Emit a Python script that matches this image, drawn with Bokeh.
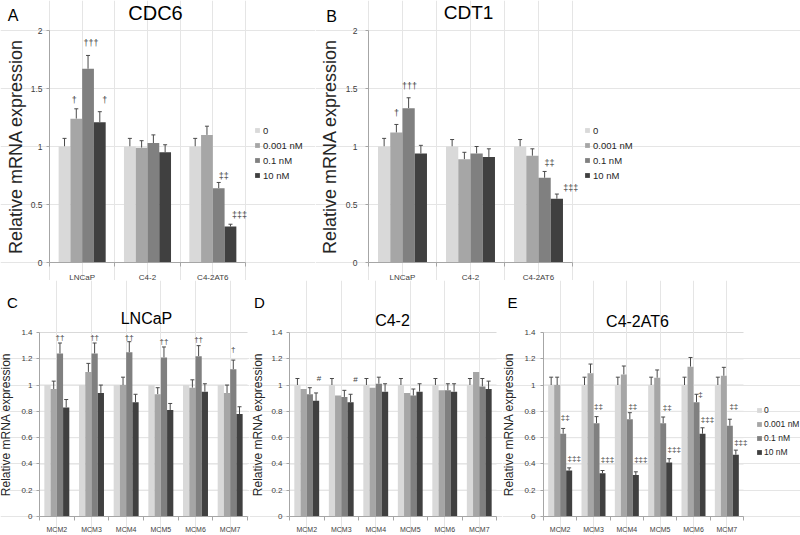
from bokeh.plotting import figure
from bokeh.layouts import row, column
from bokeh.models import (ColumnDataSource, Range1d, FixedTicker, CustomJSTickFormatter,
                          Whisker, TeeHead, Legend, LegendItem, Label, LinearAxis)
from bokeh.core.properties import value
from bokeh.embed import file_html
from bokeh.resources import INLINE

FONT = "Liberation Sans"

# ---------------- data ----------------
series_labels = ["0", "0.001 nM", "0.1 nM", "10 nM"]
series_colors = ["#d9d9d9", "#a6a6a6", "#808080", "#404040"]

cell_lines = ["LNCaP", "C4-2", "C4-2AT6"]
mcm_genes = ["MCM2", "MCM3", "MCM4", "MCM5", "MCM6", "MCM7"]

# CDC6 (panel A): one list per dose, values per cell line
cdc6_values = [[1.00, 1.00, 1.00],
               [1.24, 0.99, 1.10],
               [1.67, 1.03, 0.64],
               [1.21, 0.95, 0.31]]
cdc6_errors = [[0.07, 0.07, 0.07],
               [0.085, 0.06, 0.075],
               [0.115, 0.07, 0.05],
               [0.09, 0.065, 0.02]]
# (category index, dose index, text, y, x offset px)
cdc6_marks = [(0, 1, "†", 1.405, -2), (0, 2, "†††", 1.89, 3), (0, 3, "†", 1.405, 5),
              (2, 2, "‡‡", 0.75, 5), (2, 3, "‡‡‡", 0.41, 9)]

# CDT1 (panel B)
cdt1_values = [[1.00, 1.00, 1.00],
               [1.12, 0.89, 0.92],
               [1.33, 0.94, 0.73],
               [0.94, 0.91, 0.55]]
cdt1_errors = [[0.07, 0.06, 0.06],
               [0.07, 0.06, 0.06],
               [0.09, 0.06, 0.055],
               [0.07, 0.07, 0.04]]
cdt1_marks = [(0, 1, "†", 1.29, 0), (0, 2, "†††", 1.52, 1),
              (2, 2, "‡‡", 0.86, 5), (2, 3, "‡‡‡", 0.64, 14)]

# MCM in LNCaP (panel C)
lncap_values = [[1.00, 1.00, 1.00, 1.00, 1.00, 1.00],
                [0.97, 1.10, 1.00, 0.93, 0.98, 0.94],
                [1.24, 1.24, 1.25, 1.21, 1.22, 1.12],
                [0.83, 0.94, 0.87, 0.81, 0.95, 0.78]]
lncap_errors = [[0, 0, 0, 0, 0, 0],
                [0.06, 0.065, 0.06, 0.05, 0.06, 0.06],
                [0.08, 0.08, 0.08, 0.08, 0.08, 0.07],
                [0.06, 0.06, 0.06, 0.05, 0.06, 0.055]]
lncap_marks = [(0, 2, "††", 1.36, 0), (1, 2, "††", 1.36, 0), (2, 2, "††", 1.36, 0),
               (3, 2, "††", 1.33, 0), (4, 2, "††", 1.35, 0), (5, 2, "†", 1.27, 0)]

# MCM in C4-2 (panel D)
c42_values = [[1.00, 1.00, 1.00, 1.00, 1.00, 1.00],
              [0.97, 0.92, 0.98, 0.94, 0.96, 1.10],
              [0.93, 0.91, 1.01, 0.92, 0.96, 0.99],
              [0.88, 0.87, 0.95, 0.95, 0.95, 0.97]]
c42_errors = [[0.05, 0.05, 0.05, 0.05, 0.05, 0.05],
              [0, 0, 0, 0, 0, 0],
              [0.05, 0.05, 0.05, 0.05, 0.05, 0.06],
              [0.06, 0.06, 0.06, 0.06, 0.06, 0.06]]
c42_marks = [(0, 3, "#", 1.05, 3), (1, 3, "#", 1.04, 5)]

# MCM in C4-2AT6 (panel E)
at6_values = [[1.00, 1.00, 1.00, 1.00, 1.00, 1.00],
              [1.00, 1.09, 1.08, 1.055, 1.14, 1.07],
              [0.63, 0.71, 0.74, 0.71, 0.87, 0.69],
              [0.35, 0.33, 0.315, 0.41, 0.63, 0.47]]
at6_errors = [[0.06, 0.06, 0.06, 0.06, 0.06, 0.06],
              [0.06, 0.07, 0.065, 0.06, 0.07, 0.065],
              [0.04, 0.05, 0.05, 0.047, 0.06, 0.05],
              [0.02, 0.02, 0.025, 0.03, 0.045, 0.035]]
at6_marks = [(0, 2, "‡‡", 0.757, 2), (0, 3, "‡‡‡", 0.44, 5),
             (1, 2, "‡‡", 0.84, 2), (1, 3, "‡‡‡", 0.434, 5),
             (2, 2, "‡‡", 0.84, 3), (2, 3, "‡‡‡", 0.434, 5),
             (3, 2, "‡‡", 0.83, 4), (3, 3, "‡‡‡", 0.51, 5),
             (4, 2, "‡", 0.93, 4), (4, 3, "‡‡‡", 0.737, 5),
             (5, 2, "‡‡", 0.84, 4), (5, 3, "‡‡‡", 0.5625, 5)]

top_ticks = [0, 0.5, 1, 1.5, 2]
bottom_ticks = [0, 0.2, 0.4, 0.6, 0.8, 1, 1.2, 1.4]

# ---------------- style ----------------
OFFSETS = [-0.27, -0.09, 0.09, 0.27]
BAR_W = 0.18
ERR_COLOR = "#4a4a4a"
AXIS_COLOR = "#a6a6a6"
GRID_COLOR = "#d9d9d9"
TICK_TEXT = "#404040"


def make_panel(cats, values, errors, marks, ymax, yticks, fig_box, plot_box,
               ytick_fs, xtick_fs, ylab_fs, mark_fs, lab_std, ax_std, xlab_std,
               letter, title, letter_xy, title_xy, letter_fs, title_fs,
               legend_xy=None, legend_fs="9px", legend_lh=12, legend_sp=3,
               legend_gw=6, legend_std=3):
    # fig_box / plot_box: (left, top, right, bottom) in page pixels
    ix0, iy0, ix1, iy1 = fig_box
    fx0, fy0, fx1, fy1 = plot_box
    n = len(cats)
    xs_px = (fx1 - fx0) / n
    ys_px = (fy1 - fy0) / ymax
    x_rng = Range1d(0.5 - (fx0 - ix0) / xs_px, n + 0.5 + (ix1 - fx1) / xs_px)
    y_rng = Range1d(-(iy1 - fy1) / ys_px, ymax + (fy0 - iy0) / ys_px)

    p = figure(width=ix1 - ix0, height=iy1 - iy0, x_range=x_rng, y_range=y_rng,
               output_backend="svg", toolbar_location=None, title=None,
               x_axis_location=None, y_axis_location=None, min_border=0)
    p.outline_line_color = None
    p.background_fill_color = "white"
    p.border_fill_color = "white"

    def sx(ix):
        return ix - ix0

    def sy(iy):
        return iy1 - iy

    # grid lines
    gy = [t for t in yticks if t > 0]
    p.segment(x0=[0.5] * len(gy), x1=[n + 0.5] * len(gy), y0=gy, y1=gy,
              line_color=GRID_COLOR, line_width=1, level="underlay")

    xs = list(range(1, n + 1))
    renderers = []
    for s in range(len(values)):
        vals = values[s]
        errs = errors[s]
        x = [i + OFFSETS[s] for i in xs]
        src = ColumnDataSource(dict(x=x, top=vals))
        r = p.vbar(x="x", top="top", width=BAR_W, source=src,
                   fill_color=series_colors[s], line_color=None)
        renderers.append(r)
        keep = [k for k, e in enumerate(errs) if e > 0]
        if keep:
            esrc = ColumnDataSource(dict(x=[x[k] for k in keep],
                                         lower=[vals[k] for k in keep],
                                         upper=[vals[k] + errs[k] for k in keep]))
            w = Whisker(source=esrc, base="x", lower="lower", upper="upper",
                        line_color=ERR_COLOR, line_width=1,
                        upper_head=TeeHead(size=4, line_color=ERR_COLOR, line_width=1),
                        lower_head=None)
            p.add_layout(w)

    if marks:
        msrc = ColumnDataSource(dict(
            x=[m[0] + 1 + OFFSETS[m[1]] for m in marks],
            y=[m[3] for m in marks],
            t=[m[2] for m in marks],
            dx=[m[4] for m in marks]))
        p.text(x="x", y="y", text="t", x_offset="dx", source=msrc,
               text_font=value(FONT), text_font_size=mark_fs, text_align="center",
               text_baseline="middle", text_color="#404040")

    # y axis pinned at the left edge of the plot area
    yax = LinearAxis(fixed_location=0.5, bounds=(0, ymax))
    yax.ticker = FixedTicker(ticks=yticks)
    yax.formatter = CustomJSTickFormatter(code="return String(Math.round(tick*10)/10);")
    yax.axis_line_color = AXIS_COLOR
    yax.major_tick_line_color = AXIS_COLOR
    yax.major_tick_out = 3
    yax.major_tick_in = 0
    yax.minor_tick_line_color = None
    yax.major_label_text_font = FONT
    yax.major_label_text_font_size = ytick_fs
    yax.major_label_text_color = TICK_TEXT
    yax.major_label_standoff = lab_std
    yax.axis_label = "Relative mRNA expression"
    yax.axis_label_text_font = FONT
    yax.axis_label_text_font_style = "normal"
    yax.axis_label_text_font_size = ylab_fs
    yax.axis_label_text_color = "#262626"
    yax.axis_label_standoff = ax_std
    p.add_layout(yax, "left")

    # x axis pinned at y = 0
    xax = LinearAxis(fixed_location=0, bounds=(0.5, n + 0.5))
    xax.ticker = FixedTicker(ticks=xs, minor_ticks=[i - 0.5 for i in xs] + [n + 0.5])
    xax.formatter = CustomJSTickFormatter(args=dict(labels=cats),
                                          code="return labels[Math.round(tick) - 1];")
    xax.axis_line_color = AXIS_COLOR
    xax.major_tick_out = 0
    xax.major_tick_in = 0
    xax.minor_tick_out = 4
    xax.minor_tick_in = 0
    xax.minor_tick_line_color = AXIS_COLOR
    xax.major_label_text_font = FONT
    xax.major_label_text_font_size = xtick_fs
    xax.major_label_text_color = TICK_TEXT
    xax.major_label_standoff = xlab_std
    p.add_layout(xax, "below")

    p.add_layout(Label(x=sx(letter_xy[0]), y=sy(letter_xy[1]), x_units="screen",
                       y_units="screen", text=letter, text_font=FONT,
                       text_font_size=letter_fs, text_align="center",
                       text_baseline="middle", text_color="black"))
    p.add_layout(Label(x=sx(title_xy[0]), y=sy(title_xy[1]), x_units="screen",
                       y_units="screen", text=title, text_font=FONT,
                       text_font_size=title_fs, text_align="center",
                       text_baseline="middle", text_color="black"))

    if legend_xy is not None:
        items = [LegendItem(label=value(series_labels[s]), renderers=[renderers[s]])
                 for s in range(len(renderers))]
        lg = Legend(items=items, location=(sx(legend_xy[0]), sy(legend_xy[1])),
                    orientation="vertical",
                    glyph_width=legend_gw, glyph_height=legend_gw, label_height=legend_lh,
                    spacing=legend_sp, padding=0, margin=0, label_standoff=legend_std,
                    label_text_font=FONT, label_text_font_size=legend_fs,
                    label_text_color="#262626",
                    border_line_color=None, background_fill_alpha=0)
        p.add_layout(lg)
    return p


pA = make_panel(cell_lines, cdc6_values, cdc6_errors, cdc6_marks, 2, top_ticks,
                (0, 0, 315, 280), (49, 30, 245, 262),
                "8.5px", "8px", "18px", "9px", 4, 2, 6,
                "A", "CDC6", (12.5, 15), (155, 12), "16px", "20px",
                legend_xy=(254, 181), legend_fs="9.5px", legend_lh=12, legend_sp=3)
pB = make_panel(cell_lines, cdt1_values, cdt1_errors, cdt1_marks, 2, top_ticks,
                (315, 0, 800, 280), (368, 30, 572, 262),
                "8.5px", "8px", "18px", "9px", 8, 3, 6,
                "B", "CDT1", (331, 16), (468, 12), "16px", "19px",
                legend_xy=(584, 181), legend_fs="9.5px", legend_lh=12, legend_sp=3)
pC = make_panel(mcm_genes, lncap_values, lncap_errors, lncap_marks, 1.4, bottom_ticks,
                (0, 280, 249, 534), (39, 332, 247, 516),
                "8px", "7px", "12px", "8px", 4, 5, 5,
                "C", "LNCaP", (12, 302), (146, 318), "15px", "16px")
pD = make_panel(mcm_genes, c42_values, c42_errors, c42_marks, 1.4, bottom_ticks,
                (249, 280, 502, 534), (289, 332, 496, 516),
                "8px", "7px", "12px", "8px", 4, 3, 5,
                "D", "C4-2", (259, 302), (392, 320), "15px", "16px")
pE = make_panel(mcm_genes, at6_values, at6_errors, at6_marks, 1.4, bottom_ticks,
                (502, 280, 800, 534), (543, 332, 743, 516),
                "8px", "7px", "12px", "8px", 5, 5, 5,
                "E", "C4-2AT6", (512, 302), (637, 321), "15px", "16px",
                legend_xy=(756, 457), legend_fs="8.5px", legend_lh=11, legend_sp=3,
                legend_gw=6, legend_std=2)

layout = column(row(pA, pB), row(pC, pD, pE))

with open("out.html", "w") as f:
    f.write(file_html(layout, INLINE))
